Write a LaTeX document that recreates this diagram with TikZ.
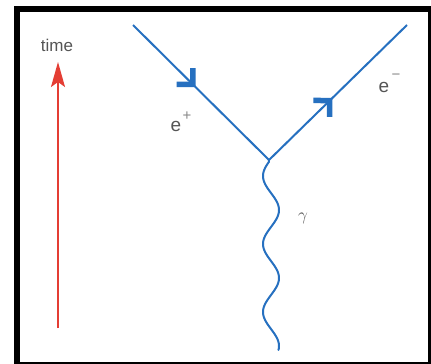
\documentclass[tikz,border=0pt]{standalone}
\usepackage{fontspec}
\setmainfont{Liberation Sans}
\usetikzlibrary{arrows.meta,decorations.markings}
\definecolor{fblue}{RGB}{38,112,192}
\definecolor{tred}{RGB}{228,62,52}
\definecolor{lbl}{RGB}{85,85,85}
\tikzset{
  fermion/.style={draw=fblue, line width=2pt,
    postaction={decorate, decoration={markings,
      mark=at position 0.44 with {\draw[fblue, line width=5.5pt, miter limit=4, line join=miter]
        (-11.5,11.5) -- (0,0) -- (-11.5,-11.5);}}}},
  photon/.style={draw=fblue, line width=2pt},
  timearrow/.style={draw=tred, line width=1.5pt, -{Stealth[length=25pt, width=14pt, inset=5pt]}},
  lab/.style={text=lbl, inner sep=0pt},
}
\begin{document}
\begin{tikzpicture}[x=1pt, y=-1pt]
\useasboundingbox (0,0) rectangle (431,364);
% frame
\fill[black] (14,6) rectangle (431,364);
\fill[white] (20,12) rectangle (428,362);
% coordinates
\coordinate (ep) at (133,25);
\coordinate (v) at (269,160);
\coordinate (em) at (407,25);
\coordinate (t0) at (58,328);
\coordinate (t1) at (58,62);
% fermion lines
\path[fermion] (ep) -- (v);
\path[fermion] (v) -- (em);
% photon
\draw[photon, line cap=round] (v) -- plot[domain=162:350, samples=120, variable=\t] ({271-8*cos((\t-176)/34*180)}, \t) coordinate (g);
% time arrow
\draw[timearrow] (t0) -- (t1);
% labels
\node[lab, font=\fontsize{17}{19}\selectfont] (time) at (57,45) {time};
\node[lab, font=\fontsize{19}{21}\selectfont] (eplus) at (176,126) {e};
\node[lab, font=\fontsize{15}{17}\selectfont, text=lbl!70] (plus) at (187,116) {+};
\node[lab, font=\fontsize{19}{21}\selectfont] (eminus) at (384,87) {e};
\node[lab, font=\fontsize{15}{17}\selectfont, text=lbl!70] (minus) at (396,77) {−};
\node[lab, font=\fontsize{19}{21}\selectfont] (gamma) at (303,218) {$\gamma$};
\end{tikzpicture}
\end{document}
